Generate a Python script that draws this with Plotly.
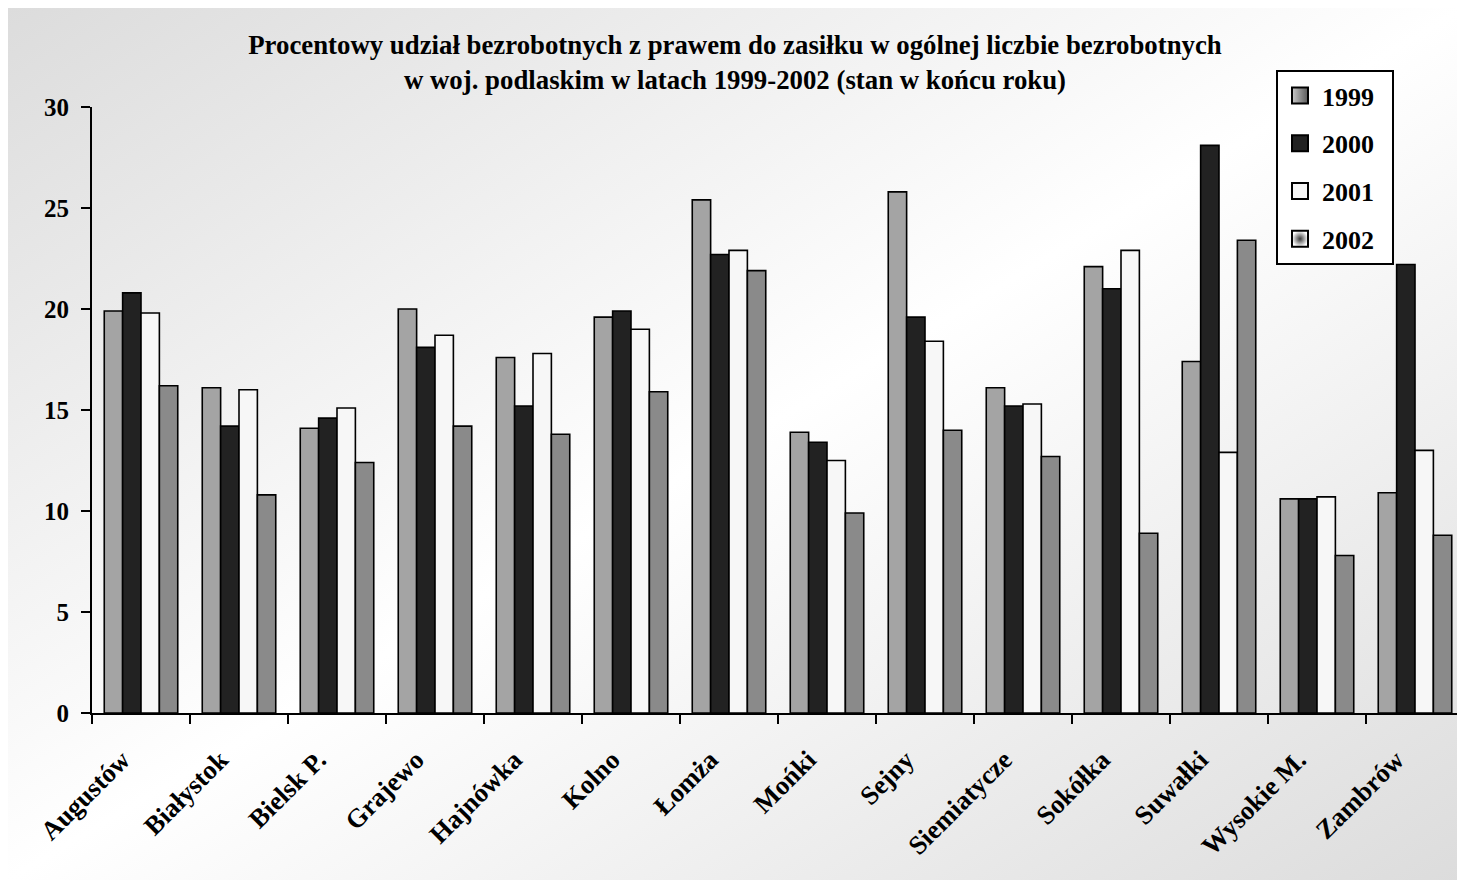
import base64
import plotly.graph_objects as go

categories = ["Augustów", "Białystok", "Bielsk P.", "Grajewo", "Hajnówka", "Kolno", "Łomża",
              "Mońki", "Sejny", "Siemiatycze", "Sokółka", "Suwałki", "Wysokie M.", "Zambrów"]
v1999 = [19.9, 16.1, 14.1, 20.0, 17.6, 19.6, 25.4, 13.9, 25.8, 16.1, 22.1, 17.4, 10.6, 10.9]
v2000 = [20.8, 14.2, 14.6, 18.1, 15.2, 19.9, 22.7, 13.4, 19.6, 15.2, 21.0, 28.1, 10.6, 22.2]
v2001 = [19.8, 16.0, 15.1, 18.7, 17.8, 19.0, 22.9, 12.5, 18.4, 15.3, 22.9, 12.9, 10.7, 13.0]
v2002 = [16.2, 10.8, 12.4, 14.2, 13.8, 15.9, 21.9, 9.9, 14.0, 12.7, 8.9, 23.4, 7.8, 8.8]
series_names = ["1999", "2000", "2001", "2002"]
series_values = [v1999, v2000, v2001, v2002]
series_colors = ["#a4a4a4", "#222222", "#f7f7f7", "#8a8a8a"]
y_ticks = [0, 5, 10, 15, 20, 25, 30]

# page has an 8px body margin, so the figure starts at (8, 8) on screen
W, H = 1457, 872
ML, MR, MT, MB = 84, 1, 99, 167
PW, PH = W - ML - MR, H - MT - MB

svg = ('<svg xmlns="http://www.w3.org/2000/svg" width="100" height="100" viewBox="0 0 100 100" '
       'preserveAspectRatio="none"><defs><linearGradient id="g" x1="0" y1="0" x2="1" y2="1">'
       '<stop offset="0" stop-color="#dcdcdc"/><stop offset="0.5" stop-color="#ffffff"/>'
       '<stop offset="1" stop-color="#dcdcdc"/></linearGradient></defs>'
       '<rect width="100" height="100" fill="url(#g)"/></svg>')
src = "data:image/svg+xml;base64," + base64.b64encode(svg.encode()).decode()

font_family = "Liberation Serif, Times New Roman, serif"
bold = dict(family=font_family, color="#000000", weight="bold")

fig = go.Figure()
for name, vals, col in zip(series_names, series_values, series_colors):
    fig.add_trace(go.Bar(
        x=categories, y=vals, name=name, showlegend=False,
        marker=dict(color=col, line=dict(color="#000000", width=1.6)),
    ))

# legend swatches (square markers with shading like the reference)
legend_styles = [
    dict(color="#c8c8c8", gradient=dict(type="horizontal", color="#5a5a5a")),
    dict(color="#222222"),
    dict(color="#f7f7f7"),
    dict(color="#ffffff", gradient=dict(type="radial", color="#3a3a3a")),
]
for name, st in zip(series_names, legend_styles):
    fig.add_trace(go.Scatter(
        x=[None], y=[None], mode="markers", name=name + "\u00a0\u00a0", legendgroup=name,
        marker=dict(symbol="square", size=16, line=dict(color="#000000", width=2), **st),
        hoverinfo="skip",
    ))

fig.update_layout(
    width=W, height=H,
    margin=dict(l=ML, r=MR, t=MT, b=MB, autoexpand=False),
    paper_bgcolor="#ffffff",
    plot_bgcolor="rgba(0,0,0,0)",
    barmode="group", bargap=0.25, bargroupgap=0,
    font=dict(family=font_family, color="#000000"),
    title=dict(
        text="<b>Procentowy udział bezrobotnych z prawem do zasiłku w ogólnej liczbie bezrobotnych<br>"
             "w woj. podlaskim w latach 1999-2002 (stan w końcu roku)</b>",
        x=(735 - 8) / W, xanchor="center", y=1 - 46 / H, yanchor="top",
        font=dict(size=26.8, family=font_family, color="#000000"),
    ),
    xaxis=dict(
        showline=True, linecolor="#000000", linewidth=2,
        ticks="outside", tickson="boundaries", ticklen=9, tickwidth=2, tickcolor="#000000",
        tickangle=-45, tickfont=dict(size=26.5, **bold),
        tickmode="array", tickvals=categories,
        ticktext=[c + "\u00a0\u00a0\u00a0\u00a0" for c in categories],
        showgrid=False, zeroline=False,
    ),
    yaxis=dict(
        range=[0, 30], tickvals=y_ticks,
        showline=True, linecolor="#000000", linewidth=2,
        ticks="outside", ticklen=9, tickwidth=2, tickcolor="#000000",
        tickfont=dict(size=25, **bold), ticklabelstandoff=7,
        showgrid=False, zeroline=False,
    ),
    legend=dict(
        x=(1276 - 8 - ML) / PW, y=(H - MB - (70 - 8)) / PH, xanchor="left", yanchor="top",
        bgcolor="#ffffff", bordercolor="#000000", borderwidth=2,
        font=dict(size=26, **bold),
        traceorder="grouped", tracegroupgap=11, itemwidth=34, itemsizing="trace",
    ),
    images=[dict(
        source=src, xref="paper", yref="paper",
        x=-ML / PW, y=1 + MT / PH, sizex=W / PW, sizey=H / PH,
        xanchor="left", yanchor="top", sizing="stretch", layer="below",
    )],
    showlegend=True,
)

fig.write_html("out.html")
